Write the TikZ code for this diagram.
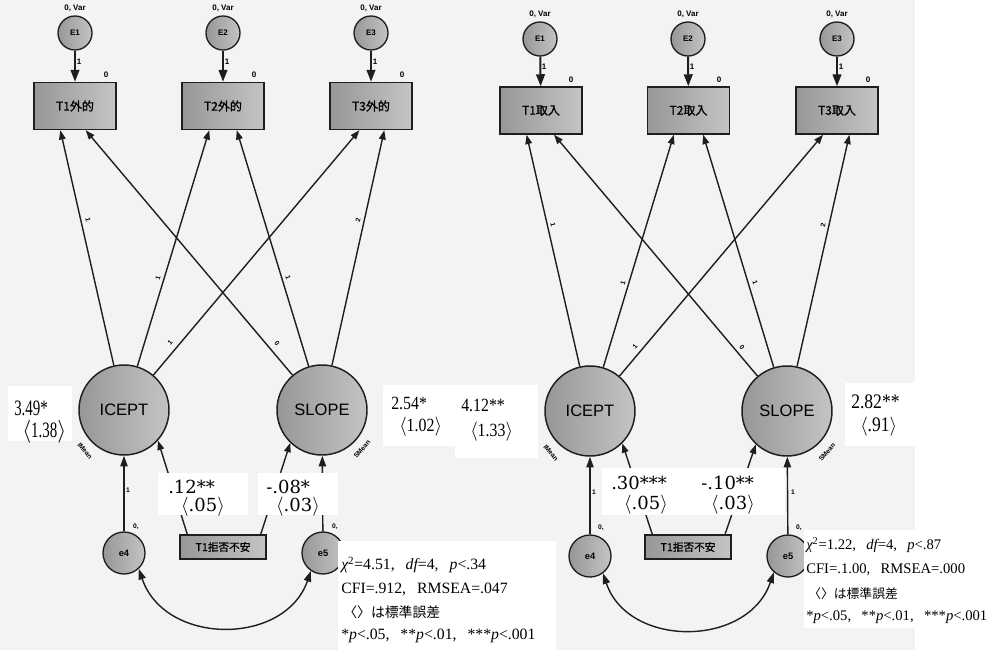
\documentclass[tikz,border=0pt]{standalone}
\usepackage{fontspec}
\setmainfont{Liberation Sans}
\newfontfamily\cjk[FakeBold=1]{Noto Sans CJK JP}
\newfontfamily\cjkr{Noto Sans CJK JP}
\newfontfamily\dvs{DejaVu Serif}
\newfontfamily\tms{Liberation Serif}
\newfontfamily\tmsn[FakeStretch=0.68]{Liberation Serif}
\newfontfamily\tmsm[FakeStretch=0.85]{Liberation Serif}
\usetikzlibrary{arrows.meta}
\definecolor{bgc}{HTML}{F3F3F3}
\definecolor{gdark}{HTML}{979797}
\definecolor{glight}{HTML}{C4C4C4}
\definecolor{lnc}{HTML}{1E1E1E}
\tikzset{
 shadeg/.style={left color=gdark, right color=glight},
 lat/.style={circle, draw=lnc, line width=1.1pt, shadeg, minimum size=67.5pt, inner sep=0pt, font=\fontsize{12.4}{14}\selectfont},
 err/.style={circle, draw=lnc, line width=1pt, shadeg, minimum size=25.5pt, inner sep=0pt, font=\bfseries\fontsize{6}{7}\selectfont},
 res/.style={circle, draw=lnc, line width=1pt, shadeg, minimum size=31.5pt, inner sep=0pt, font=\bfseries\fontsize{7}{8}\selectfont},
 obs/.style={rectangle, draw=lnc, line width=1.1pt, shadeg, minimum width=61.5pt, minimum height=35.25pt, inner sep=0pt, font=\cjk\fontsize{9}{10}\selectfont},
 cov/.style={rectangle, draw=lnc, line width=1.1pt, shadeg, minimum width=64.5pt, minimum height=18pt, inner sep=0pt, font=\cjk\fontsize{8}{9}\selectfont},
 lbltiny/.style={font=\bfseries\fontsize{5}{6}\selectfont, inner sep=0pt},
 lblsmall/.style={font=\bfseries\fontsize{6}{7}\selectfont, inner sep=0pt},
 ea/.style={draw=lnc, line width=1.5pt, -{Triangle[length=9pt,width=6.5pt]}},
 pa/.style={draw=lnc, line width=1.05pt, -{Triangle[length=7pt,width=5pt]}},
 va/.style={draw=lnc, line width=1.05pt, -{Triangle[length=8pt,width=5.5pt]}},
 da/.style={draw=lnc, line width=1.05pt, {Triangle[length=8pt,width=5.5pt]}-{Triangle[length=8pt,width=5.5pt]}},
 wbox/.style={fill=white, draw=none},
 est/.style={font=\dvs\fontsize{13.5}{15}\selectfont, inner sep=0pt},
 mnn/.style={font=\tmsn\fontsize{16.5}{18}\selectfont, inner sep=0pt, anchor=west},
 mn/.style={font=\tmsm\fontsize{14}{16}\selectfont, inner sep=0pt, anchor=west},
 mnb/.style={font=\tmsm\fontsize{15.5}{17}\selectfont, inner sep=0pt, anchor=west},
 statl/.style={font=\tms\fontsize{11.8}{13}\selectfont, inner sep=0pt, anchor=west},
 statr/.style={font=\tms\fontsize{11}{12}\selectfont, inner sep=0pt, anchor=west},
}
\newcommand{\cm}{,\hspace{0.7em}}
\begin{document}
\begin{tikzpicture}[x=0.75pt,y=-0.75pt]
\fill[bgc] (0,0) rectangle (997,650);
\fill[white] (915,0) rectangle (997,650);

% ---------- LEFT PANEL ----------
\node[err] (E1L) at (75,33) {E1};
\node[err] (E2L) at (223,33) {E2};
\node[err] (E3L) at (371,33) {E3};
\node[obs] (T1L) at (75,106) {T1外的};
\node[obs] (T2L) at (223,106) {T2外的};
\node[obs] (T3L) at (371,106) {T3外的};
\node[lat] (ICL) at (124,410) {ICEPT};
\node[lat] (SLL) at (322,410) {SLOPE};
\node[res] (e4L) at (124,553) {e4};
\node[res] (e5L) at (323,553) {e5};
\node[cov] (XL) at (223,547) {T1拒否不安};

\foreach \i/\x in {1/75,2/223,3/371}{
  \node[lblsmall] (vL\i) at (\x,8) {0, Var};
  \node[lblsmall, anchor=west] (oL\i) at (\x+1.5,62) {1};
  \node[lblsmall] (zL\i) at (\x+31,75) {0};
}
\draw[ea] (E1L) -- (T1L);
\draw[ea] (E2L) -- (T2L);
\draw[ea] (E3L) -- (T3L);

\draw[pa] (ICL) -- ([xshift=-11pt]T1L.south);
\draw[pa] (ICL) -- ([xshift=-10.3pt]T2L.south);
\draw[pa] (ICL) -- ([xshift=-8.7pt]T3L.south);
\draw[pa] (SLL) -- ([xshift=8pt]T1L.south);
\draw[pa] (SLL) -- ([xshift=10.3pt]T2L.south);
\draw[pa] (SLL) -- ([xshift=10pt]T3L.south);
\node[lbltiny, rotate=-77] (l1) at (88,220) {1};
\node[lbltiny, rotate=73] (l2) at (158,278) {1};
\node[lbltiny, rotate=50] (l3) at (170,343) {1};
\node[lbltiny, rotate=-50] (l4) at (277,343) {0};
\node[lbltiny, rotate=-73] (l5) at (288,278) {1};
\node[lbltiny, rotate=77] (l6) at (358,220) {2};
\node[lbltiny, rotate=-50] (imL) at (85,451) {IMean};
\node[lbltiny, rotate=50] (smL) at (362,449) {SMean};

\draw[va] (e4L) -- (ICL);
\draw[va] (e5L) -- (SLL);
\node[lbltiny] (v1L) at (128,490) {1};
\node[lbltiny] (z4L) at (136,527) {0,};
\node[lbltiny] (z5L) at (335,527) {0,};
\draw[pa] ([xshift=6pt]XL.north west) -- (ICL.-42);
\draw[pa] ([xshift=-4.5pt]XL.north east) -- (SLL.-134);
\draw[da] (e4L.-47) .. controls (165,646) and (285,646) .. (e5L.-124);

% white label boxes
\fill[wbox] (8,386) rectangle (72,441);
\fill[wbox] (383,385) rectangle (538,446);
\fill[wbox] (455,440) rectangle (538,458);
\fill[wbox] (158,473) rectangle (248,515);
\fill[wbox] (258,473) rectangle (338,515);
\fill[wbox] (338,541) rectangle (556,650);

\node[mnn] (m1a) at (14,408) {3.49*};
\node[mnn] (m1b) at (22,432) {$\langle$1.38$\rangle$};
\node[mn] (m2a) at (391,403) {2.54*};
\node[mn] (m2b) at (399,427) {$\langle$1.02$\rangle$};
\node[est, anchor=west] (c1a) at (168,487) {.12**};
\node[est] (c1b) at (203,507) {$\langle$.05$\rangle$};
\node[est, anchor=west] (c2a) at (266,487) {-.08*};
\node[est] (c2b) at (298,507) {$\langle$.03$\rangle$};

\node[statl] (s1) at (341,565) {{\itshape χ}\textsuperscript{2}=4.51\cm{\itshape df}=4\cm{\itshape p}<.34};
\node[statl] (s2) at (341,589) {CFI=.912\cm RMSEA=.047};
\node[statl] (s3) at (343,612) {\cjkr\fontsize{10.4}{12}\selectfont 〈〉は標準誤差};
\node[statl] (s4) at (341,636) {*{\itshape p}<.05\cm **{\itshape p}<.01\cm ***{\itshape p}<.001};

% ---------- RIGHT PANEL ----------
\node[err] (E1R) at (540,39) {E1};
\node[err] (E2R) at (688,39) {E2};
\node[err] (E3R) at (837,39) {E3};
\node[obs] (T1R) at (541,110.5) {T1取入};
\node[obs] (T2R) at (688.5,110.5) {T2取入};
\node[obs] (T3R) at (837,110.5) {T3取入};
\node[lat] (ICR) at (590,411) {ICEPT};
\node[lat] (SLR) at (787,411) {SLOPE};
\node[res] (e4R) at (590,556) {e4};
\node[res] (e5R) at (788,556) {e5};
\node[cov] (XR) at (688,547) {T1拒否不安};

\foreach \i/\x in {1/540,2/688,3/837}{
  \node[lblsmall] (vR\i) at (\x,14) {0, Var};
  \node[lblsmall, anchor=west] (oR\i) at (\x+1.5,67) {1};
  \node[lblsmall] (zR\i) at (\x+31,80) {0};
}
\draw[ea] (E1R) -- (T1R);
\draw[ea] (E2R) -- (T2R);
\draw[ea] (E3R) -- (T3R);

\draw[pa] (ICR) -- ([xshift=-10.8pt]T1R.south);
\draw[pa] (ICR) -- ([xshift=-11pt]T2R.south);
\draw[pa] (ICR) -- ([xshift=-10.5pt]T3R.south);
\draw[pa] (SLR) -- ([xshift=9.75pt]T1R.south);
\draw[pa] (SLR) -- ([xshift=11pt]T2R.south);
\draw[pa] (SLR) -- ([xshift=9.3pt]T3R.south);
\node[lbltiny, rotate=-77] (r1) at (553,225) {1};
\node[lbltiny, rotate=73] (r2) at (623,283) {1};
\node[lbltiny, rotate=50] (r3) at (635,347) {1};
\node[lbltiny, rotate=-50] (r4) at (742,347) {0};
\node[lbltiny, rotate=-73] (r5) at (755,283) {1};
\node[lbltiny, rotate=77] (r6) at (823,225) {2};
\node[lbltiny, rotate=-50] (imR) at (551,453) {IMean};
\node[lbltiny, rotate=50] (smR) at (827,452) {SMean};

\draw[va] (e4R) -- (ICR);
\draw[va] (e5R) -- (SLR);
\node[lbltiny] (v1R) at (594,492) {1};
\node[lbltiny] (v2R) at (793,492) {1};
\node[lbltiny] (z4R) at (601,528) {0,};
\node[lbltiny] (z5R) at (799,528) {0,};
\draw[pa] ([xshift=6pt]XR.north west) -- (ICR.-45);
\draw[pa] ([xshift=-5pt]XR.north east) -- (SLR.-133);
\draw[da] (e4R.-53) .. controls (628,648) and (748,648) .. (e5R.-131);

\fill[wbox] (602,468) rectangle (785,515);
\fill[wbox] (845,383) rectangle (920,446);
\fill[wbox] (804,530) rectangle (997,628);

\node[mn] (m3a) at (461,405) {4.12**};
\node[mn] (m3b) at (470,432) {$\langle$1.33$\rangle$};
\node[mnb] (m4a) at (851,402) {2.82**};
\node[mnb] (m4b) at (860,427) {$\langle$.91$\rangle$};
\node[est, anchor=west] (c3a) at (611,483) {.30***};
\node[est] (c3b) at (646,505) {$\langle$.05$\rangle$};
\node[est, anchor=west] (c4a) at (701,483) {-.10**};
\node[est] (c4b) at (733,505) {$\langle$.03$\rangle$};

\node[statr] (t1) at (806,545) {{\itshape χ}\textsuperscript{2}=1.22\cm{\itshape df}=4\cm{\itshape p}<.87};
\node[statr] (t2) at (806,570) {CFI=.1.00\cm RMSEA=.000};
\node[statr] (t3) at (808,594) {\cjkr\fontsize{9.6}{11}\selectfont 〈〉は標準誤差};
\node[statr] (t4) at (806,617) {*{\itshape p}<.05\cm **{\itshape p}<.01\cm ***{\itshape p}<.001};
\end{tikzpicture}
\end{document}
